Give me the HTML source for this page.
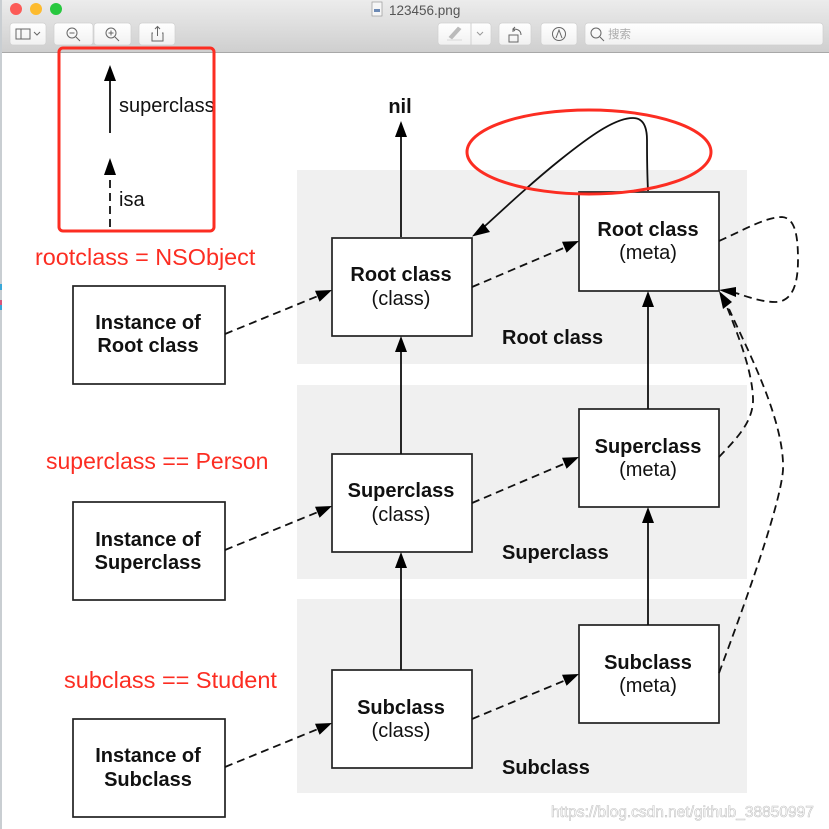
<!DOCTYPE html>
<html><head><meta charset="utf-8"><style>
html,body{margin:0;padding:0;background:#fff}
svg{display:block}
text{font-family:"Liberation Sans","Noto Sans CJK SC",sans-serif}
</style></head><body>
<svg width="829" height="829" viewBox="0 0 829 829" xmlns="http://www.w3.org/2000/svg">
<defs>
<linearGradient id="tb" x1="0" y1="0" x2="0" y2="1"><stop offset="0" stop-color="#ececec"/><stop offset="1" stop-color="#cfcfcf"/></linearGradient>
<linearGradient id="btn" x1="0" y1="0" x2="0" y2="1"><stop offset="0" stop-color="#ffffff"/><stop offset="1" stop-color="#f1f1f1"/></linearGradient>
</defs>
<rect width="829" height="829" fill="#fff"/>
<!-- toolbar -->
<rect x="0" y="0" width="829" height="52" fill="url(#tb)"/>
<rect x="0" y="52" width="829" height="1" fill="#a8a8a8"/>
<rect x="0" y="0" width="2" height="829" fill="#c9ced2"/>
<rect x="0" y="284" width="2" height="6" fill="#3aa7d8"/><rect x="0" y="300" width="2" height="5" fill="#d8567a"/><rect x="0" y="305" width="2" height="5" fill="#3aa7d8"/>
<circle cx="16" cy="9" r="6" fill="#fc5b57"/><circle cx="36" cy="9" r="6" fill="#fdbb2e"/><circle cx="56" cy="9" r="6" fill="#28c83f"/>
<rect x="372" y="2" width="10" height="14" fill="#f6f6f6" stroke="#999" stroke-width=".7"/><rect x="374" y="9" width="6" height="3" fill="#6d8ab5"/>
<text x="389" y="15" font-size="13.5" fill="#555">123456.png</text>
<g fill="url(#btn)" stroke="#cfcfcf" stroke-width=".7">
<rect x="10" y="23" width="36" height="22" rx="3"/><rect x="54" y="23" width="39" height="22" rx="3"/><rect x="94" y="23" width="37" height="22" rx="3"/><rect x="139" y="23" width="36" height="22" rx="3"/>
<rect x="438" y="23" width="53" height="22" rx="3"/><rect x="499" y="23" width="32" height="22" rx="3"/><rect x="541" y="23" width="36" height="22" rx="3"/><rect x="585" y="23" width="238" height="22" rx="3"/>
</g>
<g fill="none" stroke="#666" stroke-width="1">
<rect x="16" y="29" width="14" height="10"/><path d="M21 29v10M34 32l3 3 3-3"/>
<circle cx="72" cy="33" r="5"/><path d="M76 37l4 4M69.500 33h5"/>
<circle cx="111" cy="33" r="5"/><path d="M115 37l4 4M108.500 33h5M111 30.500v5"/>
<path d="M153 33h-1v8h11v-8h-1M157.500 36v-9M155 29l2.500-2.500 2.500 2.500"/>
<path d="M471 23v22" stroke="#d0d0d0"/><path d="M477 32l3 3 3-3" stroke="#999"/>
<rect x="509" y="35" width="9" height="7"/><path d="M513 32v-3c4 0 8 1 8 6M515 27l-2 2 2 2"/>
<circle cx="559" cy="34" r="6.500"/><path d="M556 38l3-8 3 8"/>
<circle cx="596" cy="33" r="5"/><path d="M600 37l4 4"/>
</g>
<path d="M449 37l9-10 3 2-9 10zM447 40h15" fill="#bbb" stroke="#bbb" stroke-width=".6"/>
<text x="608" y="38" font-size="11.500" fill="#aaa">搜索</text>
<!-- panels -->
<rect x="297" y="170" width="450" height="194" fill="#f0f0f0"/>
<rect x="297" y="385" width="450" height="194" fill="#f0f0f0"/>
<rect x="297" y="599" width="450" height="194" fill="#f0f0f0"/>
<!-- boxes -->
<g fill="#fff" stroke="#222" stroke-width="1.700">
<rect x="73" y="286" width="152" height="98"/><rect x="73" y="502" width="152" height="98"/><rect x="73" y="719" width="152" height="98"/>
<rect x="332" y="238" width="140" height="98"/><rect x="332" y="454" width="140" height="98"/><rect x="332" y="670" width="140" height="98"/>
<rect x="579" y="192" width="140" height="99"/><rect x="579" y="409" width="140" height="98"/><rect x="579" y="625" width="140" height="98"/>
</g>
<!-- solid lines -->
<g fill="none" stroke="#111" stroke-width="1.800">
<path d="M110 133V80M401 237V136M401 454V350M401 670V567M648 409V306M648 625V522"/>
<path d="M648 191C647 170 647 155 647 140C647 125 642 118 633 118C615 118 590 136 560 160C535 180 510 203 485 226"/>
</g>
<!-- dashed lines -->
<g fill="none" stroke="#111" stroke-width="1.800" stroke-dasharray="8 5">
<path d="M110 227V176"/>
<path d="M225 334L318 296M225 550L318 512M225 767L318 729"/>
<path d="M472 287L566 247M472 503L566 463M472 719L566 680"/>
<path d="M719 241C740 232 765 217 782 217C795 218 798 235 798 260C798 285 792 302 775 302C762 302 748 297 736 293"/>
<path d="M719 457C735 440 754 422 753 398C752 370 738 335 727 307"/>
<path d="M719 673C735 630 780 510 783 470C785 420 745 345 729 309"/>
</g>
<!-- arrowheads -->
<g fill="#000">
<path d="M110 65L116 81H104ZM110 158L116 175H104Z"/>
<path d="M401 121L407 137H395ZM401 336L407 352H395ZM401 552L407 568H395Z"/>
<path d="M648 291L654 307H642ZM648 507L654 523H642Z"/>
<path d="M332 290l-17 .7l4.600 11ZM332 506l-17 .7l4.600 11ZM332 723l-17 .7l4.600 11Z"/>
<path d="M579 241l-17 .7l4.600 11ZM579 457l-17 .7l4.600 11ZM579 674l-17 .7l4.600 11Z"/>
<path d="M472 236.500L483 223L490 232Z"/>
<path d="M719 290L736 287L736 297Z"/>
<path d="M719 291L732 302L723 309Z"/>
</g>
<!-- labels -->
<g font-size="20" fill="#111" text-anchor="middle">
<g font-weight="bold">
<text x="148" y="329">Instance of</text><text x="148" y="352">Root class</text>
<text x="148" y="546">Instance of</text><text x="148" y="569">Superclass</text>
<text x="148" y="762">Instance of</text><text x="148" y="786">Subclass</text>
<text x="401" y="281">Root class</text><text x="401" y="497">Superclass</text><text x="401" y="714">Subclass</text>
<text x="648" y="236">Root class</text><text x="648" y="453">Superclass</text><text x="648" y="669">Subclass</text>
<text x="400" y="113">nil</text>
</g>
<text x="401" y="305">(class)</text><text x="401" y="521">(class)</text><text x="401" y="737">(class)</text>
<text x="648" y="259">(meta)</text><text x="648" y="476">(meta)</text><text x="648" y="692">(meta)</text>
</g>
<g font-size="20" font-weight="bold" fill="#111">
<text x="502" y="344">Root class</text><text x="502" y="559">Superclass</text><text x="502" y="774">Subclass</text>
</g>
<text x="119" y="112" font-size="20" fill="#111">superclass</text>
<text x="119" y="206" font-size="20" fill="#111">isa</text>
<!-- red annotations -->
<rect x="59" y="48" width="155" height="183" rx="4" fill="none" stroke="#fc2d22" stroke-width="3"/>
<ellipse cx="589" cy="152" rx="122" ry="42" fill="none" stroke="#fc2d22" stroke-width="3"/>
<g font-size="23" fill="#fc2d22">
<text x="35" y="265" font-size="23.400">rootclass = NSObject</text>
<text x="46" y="469">superclass == Person</text>
<text x="64" y="688" font-size="23.500">subclass == Student</text>
</g>
<text x="551" y="817" font-size="15.500" fill="#fff" stroke="#c4c4c4" stroke-width=".6">https://blog.csdn.net/github_38850997</text>
</svg>
</body></html>
